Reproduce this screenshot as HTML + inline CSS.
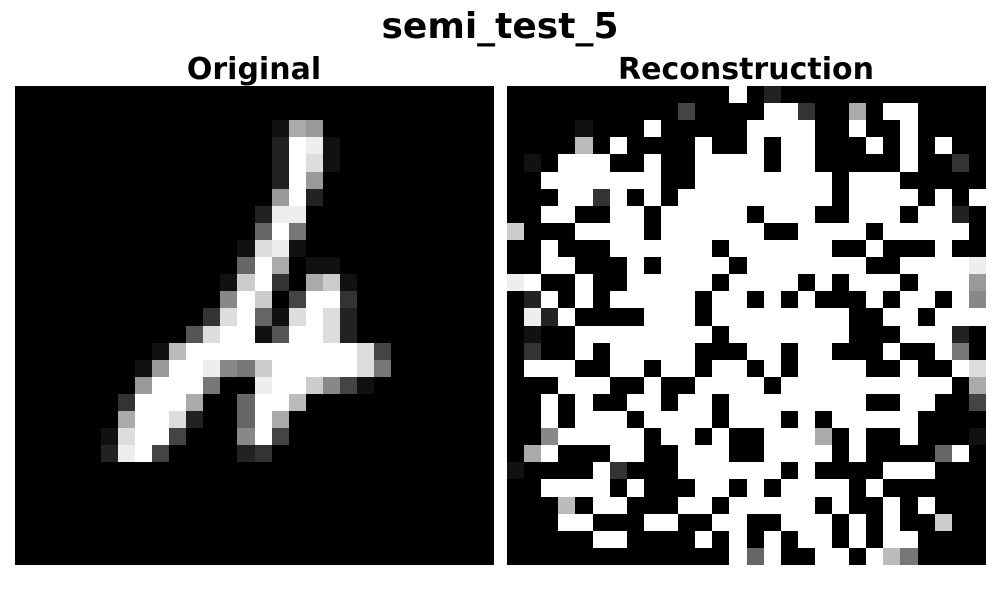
<!DOCTYPE html>
<html><head><meta charset="utf-8">
<style>
html,body{margin:0;padding:0;background:#fff;}
body{width:1000px;height:600px;position:relative;overflow:hidden;font-family:"DejaVu Sans","Liberation Sans",sans-serif;}
.t{position:absolute;font-weight:bold;color:#000;text-align:center;white-space:nowrap;}
svg{position:absolute;left:0;top:0;}
</style></head>
<body>
<div class="t" style="left:0;width:1000px;top:6px;font-size:36px;">semi_test_5</div>
<div class="t" style="left:14px;width:480px;top:52px;font-size:30px;">Original</div>
<div class="t" style="left:506px;width:480px;top:52px;font-size:30px;">Reconstruction</div>
<svg id="s" width="1000" height="600" shape-rendering="crispEdges"></svg>
<script>
var L=["","","000000000000000"+"1a9","000000000000000"+"2fe1","000000000000000"+"2fd1","000000000000000"+"2f9","000000000000000"+"9f2","00000000000000"+"2ee","00000000000000"+"6f7","0000000000000"+"1de1","0000000000000"+"6fa011","000000000000"+"1cf30ac1","000000000000"+"8fc04ff3","00000000000"+"3df61dfd2","000000000"+"05dff15ffd20","00000000"+"1bffffffffffd4","0000000"+"19ffe87cfffffd7","000000"+"09fff700effc841","000000"+"3fffa006ffb","000000"+"affd2006fa0","00000"+"1dff40008f4","00000"+"2ef4000023","","","","","",""];
var R=["0000000000000f02000000000000","000000000040000ff300a0ff0000","00001000f00000ffff00f00f0000","0000b0f0000f00f0ff000f0f0f00","010fff00f00ffff0ff00000f0030","00fffffff00ffffffff0fff00000","000ff3f0f0fffffffff0ffff0f0f","00ff00ff0fffff0fff00fff0ff20","c000ffff0ffffff00ffff0fffff0","00f000ffffff0ffffff00f000f00","00ff000f0ffff0fffffff00ffffe","ef00f00fffff0ffff0f0fff0fff9","02f0f0fffff0ff0f0f000f0ff0f8","0e2f0000fff0ffffffff00ff0fff","0100ffffffff0fffffff000fff20","0300f0fffff000ff0ff000f00f70","0fff00ff0ff0ff0f0ffff00f00fd","000fff00f00ffff0ffffffffff0a","00f0f00ff0ff0ffffffff00ff004","00f0fff0ffff0fff0f0fffff0000","008fffff0ff0f00fffa0f00f0001","0af000ff00fff00ffff0f00006f0","10000f3000ffffff0f0000fff000","00ffff0f000ff0f0ffff0f000000","000b0ff000ff0fffff0f00f0f000","000ff000ff00ff00fff0f0f00c00","00000ff0000f0f0f0ff0f0ff0000","0000000000000f6f00ff0fb70000"];
var s=document.getElementById('s'),NS="http://www.w3.org/2000/svg",c=479/28;
function draw(g,x0,y0){
 var r=document.createElementNS(NS,'rect');r.setAttribute('x',x0);r.setAttribute('y',y0);r.setAttribute('width',479);r.setAttribute('height',479);r.setAttribute('fill','#000');s.appendChild(r);
 for(var i=0;i<28;i++){var row=(g[i]+"0000000000000000000000000000").slice(0,28);
  for(var j=0;j<28;j++){var v=parseInt(row[j],16)*17;if(!v)continue;
   var e=document.createElementNS(NS,'rect');var x1=Math.round(x0+j*c),x2=Math.round(x0+(j+1)*c),y1=Math.round(y0+i*c),y2=Math.round(y0+(i+1)*c);
   e.setAttribute('x',x1);e.setAttribute('y',y1);e.setAttribute('width',x2-x1);e.setAttribute('height',y2-y1);e.setAttribute('fill','rgb('+v+','+v+','+v+')');s.appendChild(e);}}
}
draw(L,15,86);draw(R,507,86);
</script>
</body></html>
